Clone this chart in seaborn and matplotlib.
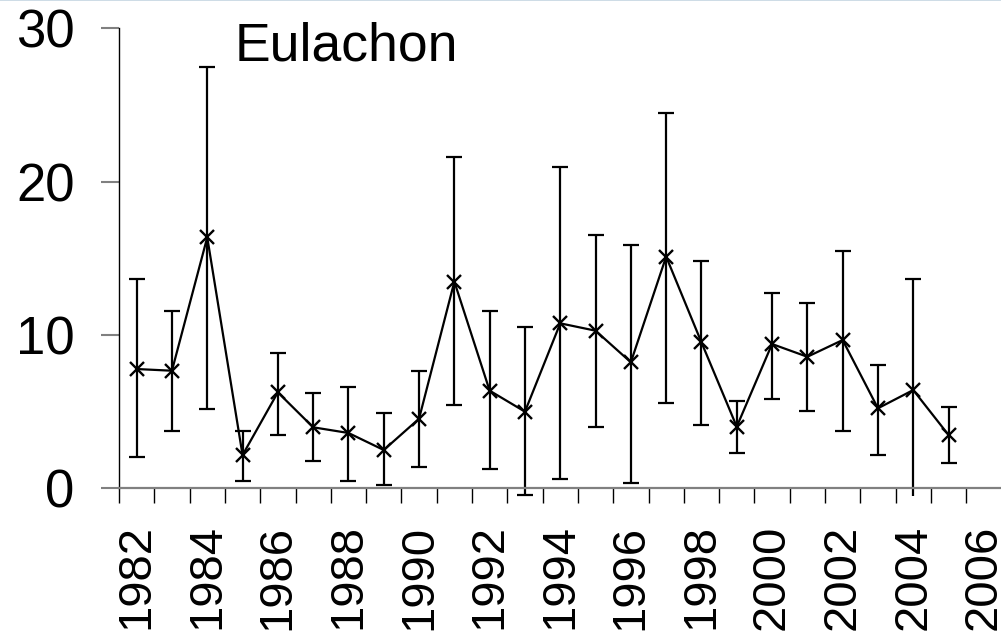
import matplotlib
matplotlib.use("Agg")
import matplotlib.pyplot as plt
from matplotlib.lines import Line2D
from matplotlib.ticker import FixedLocator, FixedFormatter, NullFormatter
import numpy as np
import pandas as pd
import seaborn as sns

# Annual estimates with lower/upper confidence limits
years = list(range(1982, 2006))
estimate = [7.78, 7.67, 16.37, 2.17, 6.26, 3.98, 3.61, 2.50, 4.54, 13.48,
            6.37, 5.00, 10.76, 10.28, 8.22, 15.11, 9.52, 4.02, 9.41, 8.58,
            9.67, 5.22, 6.41, 3.48]
lower = [2.06, 3.74, 5.19, 0.48, 3.50, 1.80, 0.48, 0.24, 1.41, 5.43,
         1.26, -0.44, 0.61, 4.02, 0.37, 5.58, 4.15, 2.32, 5.82, 5.04,
         3.76, 2.17, -1.50, 1.67]
upper = [13.67, 11.57, 27.48, 3.74, 8.85, 6.22, 6.61, 4.91, 7.67, 21.63,
         11.57, 10.52, 20.96, 16.52, 15.87, 24.48, 14.83, 5.69, 12.76, 12.11,
         15.48, 8.04, 13.65, 5.30]
axis_years = list(range(1982, 2007))
species = "Eulachon"

df = pd.DataFrame({"year": years, "estimate": estimate,
                   "lower": lower, "upper": upper})
df["pos"] = [axis_years.index(y) for y in df["year"]]

sns.set_theme(style="white")
plt.rcParams["font.family"] = ["Liberation Sans", "DejaVu Sans"]

fig = plt.figure(figsize=(10.01, 6.35), dpi=100)
ax = fig.add_axes([119 / 1001, (635 - 496) / 635,
                   (1001.5 - 119) / 1001, (496 - 28.3) / 635])

# confidence intervals
yerr = np.vstack([df["estimate"] - df["lower"], df["upper"] - df["estimate"]])
ax.errorbar(df["pos"], df["estimate"], yerr=yerr, fmt="none",
            ecolor="black", elinewidth=1.6, capsize=5.6, capthick=1.6,
            zorder=2)

# estimate series
sns.lineplot(data=df, x="pos", y="estimate", ax=ax, color="black",
             linewidth=1.6, marker="x", markersize=10, markeredgewidth=1.7,
             markeredgecolor="black", zorder=3)

ax.set_xlim(-0.5, len(axis_years) - 0.5)
ax.set_ylim(-0.5, 30)

# category axis: labels at every other year, marks between categories
label_pos = [i for i, y in enumerate(axis_years) if y % 2 == 0]
ax.xaxis.set_major_locator(FixedLocator(label_pos))
ax.xaxis.set_major_formatter(FixedFormatter([str(axis_years[i]) for i in label_pos]))
ax.xaxis.set_minor_locator(FixedLocator(np.arange(-0.5, len(axis_years), 1)))
ax.xaxis.set_minor_formatter(NullFormatter())
ax.tick_params(axis="x", which="major", length=0, pad=26,
               labelsize=34, labelrotation=90, labelcolor="black")
ax.tick_params(axis="x", which="minor", length=11, width=1.0,
               color="black", direction="out", bottom=True)

ax.yaxis.set_major_locator(FixedLocator([0, 10, 20, 30]))
ax.tick_params(axis="y", which="major", length=13, width=1.5,
               color="#808080", direction="out", pad=19, left=True,
               labelsize=38, labelcolor="black")

for side in ("top", "right"):
    ax.spines[side].set_visible(False)
ax.spines["left"].set_color("black")
ax.spines["left"].set_linewidth(1.0)
ax.spines["left"].set_bounds(0, 30)
ax.spines["bottom"].set_position(("data", 0))
ax.spines["bottom"].set_color("#808080")
ax.spines["bottom"].set_linewidth(1.6)

ax.set_xlabel("")
ax.set_ylabel("")

ax.text(2.78, 27.9, species, fontsize=38.5, color="black",
        ha="left", va="baseline")

# thin frame line along the top edge
fig.add_artist(Line2D([0, 1], [0.9995, 0.9995], transform=fig.transFigure,
                      color="#c5d6e2", linewidth=1.2))

fig.savefig("out.png", dpi=100, facecolor="white")
